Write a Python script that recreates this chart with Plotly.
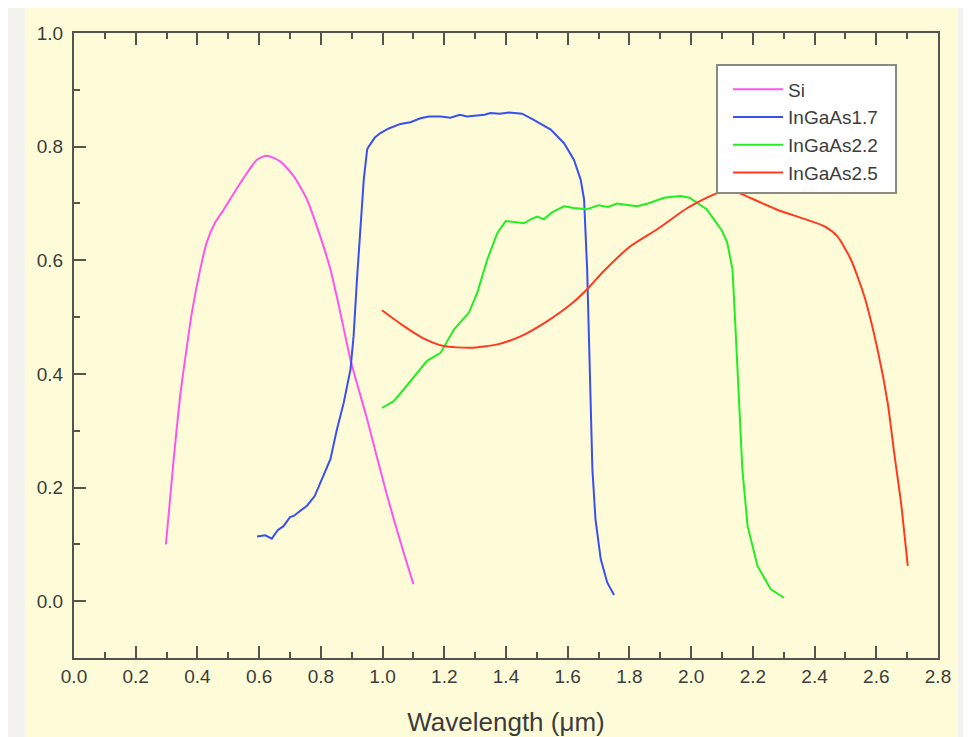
import plotly.graph_objects as go

# ---- data ----
si_x = [0.298, 0.322, 0.344, 0.366, 0.382, 0.409, 0.430, 0.457, 0.485, 0.539, 0.593, 0.625,
        0.668, 0.712, 0.755, 0.798, 0.831, 0.863, 0.896, 0.950, 1.015, 1.068, 1.100]
si_y = [0.100, 0.244, 0.361, 0.449, 0.508, 0.584, 0.631, 0.666, 0.689, 0.736, 0.777, 0.784,
        0.774, 0.748, 0.707, 0.642, 0.584, 0.508, 0.425, 0.320, 0.185, 0.086, 0.030]

g17_x = [0.593, 0.620, 0.641, 0.660, 0.679, 0.700, 0.712, 0.735, 0.755, 0.780, 0.798, 0.831,
         0.852, 0.874, 0.896, 0.906, 0.917, 0.928, 0.939, 0.950, 0.955, 0.975, 0.993, 1.020,
         1.058, 1.090, 1.123, 1.150, 1.188, 1.220, 1.250, 1.274, 1.300, 1.330, 1.350, 1.380,
         1.410, 1.452, 1.490, 1.545, 1.588, 1.620, 1.642, 1.653, 1.663, 1.669, 1.674, 1.680,
         1.690, 1.707, 1.728, 1.750]
g17_y = [0.114, 0.116, 0.110, 0.125, 0.132, 0.148, 0.150, 0.160, 0.168, 0.185, 0.209, 0.250,
         0.302, 0.349, 0.408, 0.466, 0.566, 0.654, 0.742, 0.795, 0.800, 0.816, 0.824, 0.832,
         0.840, 0.843, 0.850, 0.853, 0.853, 0.851, 0.856, 0.853, 0.855, 0.856, 0.859, 0.858,
         0.860, 0.858, 0.847, 0.830, 0.806, 0.777, 0.742, 0.707, 0.584, 0.466, 0.349, 0.232,
         0.144, 0.074, 0.033, 0.011]

g22_x = [0.998, 1.036, 1.069, 1.112, 1.144, 1.188, 1.231, 1.280, 1.307, 1.339, 1.372, 1.399,
         1.430, 1.458, 1.480, 1.501, 1.523, 1.550, 1.588, 1.620, 1.663, 1.700, 1.730, 1.760,
         1.800, 1.825, 1.860, 1.890, 1.912, 1.940, 1.966, 1.995, 2.020, 2.050, 2.074, 2.100,
         2.117, 2.134, 2.145, 2.155, 2.166, 2.183, 2.215, 2.258, 2.301]
g22_y = [0.340, 0.352, 0.373, 0.402, 0.423, 0.437, 0.478, 0.508, 0.543, 0.601, 0.648, 0.669,
         0.667, 0.665, 0.672, 0.677, 0.672, 0.685, 0.695, 0.692, 0.690, 0.697, 0.694, 0.700,
         0.697, 0.695, 0.700, 0.705, 0.710, 0.712, 0.713, 0.710, 0.701, 0.690, 0.672, 0.652,
         0.631, 0.584, 0.466, 0.349, 0.232, 0.132, 0.062, 0.021, 0.006]

g25_x = [0.998, 1.069, 1.134, 1.198, 1.285, 1.372, 1.447, 1.534, 1.609, 1.663, 1.717, 1.804,
         1.891, 1.988, 2.074, 2.130, 2.166, 2.279, 2.431, 2.474, 2.518, 2.561, 2.604, 2.637,
         2.658, 2.680, 2.702]
g25_y = [0.512, 0.484, 0.462, 0.449, 0.446, 0.452, 0.466, 0.493, 0.522, 0.549, 0.581, 0.625,
         0.655, 0.692, 0.716, 0.724, 0.716, 0.689, 0.660, 0.642, 0.601, 0.537, 0.443, 0.349,
         0.261, 0.174, 0.062]

series_names = ["Si", "InGaAs1.7", "InGaAs2.2", "InGaAs2.5"]
series_colors = ["#ff55ee", "#3a4ff0", "#22ee22", "#ff3a22"]

FONT = "Liberation Sans, Arial, sans-serif"
AX = "#555550"
TXT = "#3c3c3c"

fig = go.Figure()
data = [(si_x, si_y, "spline"), (g17_x, g17_y, "linear"),
        (g22_x, g22_y, "linear"), (g25_x, g25_y, "spline")]
for (xs, ys, shp), name, col in zip(data, series_names, series_colors):
    fig.add_trace(go.Scatter(x=xs, y=ys, mode="lines", name=name,
                             line=dict(color=col, width=2, shape=shp, smoothing=0.6)))

fig.update_layout(
    width=963, height=729,
    margin=dict(l=66, r=33, t=25, b=79),
    paper_bgcolor="#f3f2ef",
    plot_bgcolor="#fefcd8",
    font=dict(family=FONT, color=TXT),
    shapes=[
        dict(type="rect", xref="paper", yref="paper", layer="below",
             x0=-0.0567, x1=1.0231, y0=-0.3, y1=1.040,
             fillcolor="#fefcd8", line=dict(width=0)),
        # legend box
        dict(type="rect", xref="paper", yref="paper", layer="above",
             x0=0.7442, x1=0.9514, y0=0.744, y1=0.9488,
             fillcolor="white", line=dict(color="#8a8a80", width=2)),
    ],
    legend=dict(x=0.757, y=0.940, xanchor="left", yanchor="top",
                bgcolor="rgba(0,0,0,0)", borderwidth=0,
                font=dict(family=FONT, size=19, color=TXT),
                itemwidth=50),
    xaxis=dict(range=[0, 2.8], dtick=0.2, tick0=0, tickformat=".1f",
               showline=True, linecolor=AX, linewidth=2, mirror="ticks",
               ticks="inside", ticklen=12, tickwidth=1.5, tickcolor=AX,
               minor=dict(ticks="inside", ticklen=6, tickwidth=1.5, tickcolor=AX, dtick=0.1),
               showgrid=False, zeroline=False, automargin=False,
               tickfont=dict(family=FONT, size=19, color=TXT),
               title=dict(text="Wavelength (μm)", font=dict(family=FONT, size=26, color=TXT),
                          standoff=30)),
    yaxis=dict(range=[-0.1, 1.0], dtick=0.2, tick0=0, tickformat=".1f",
               showline=True, linecolor=AX, linewidth=2, mirror=True,
               ticks="inside", ticklen=12, tickwidth=1.5, tickcolor=AX,
               minor=dict(ticks="inside", ticklen=6, tickwidth=1.5, tickcolor=AX, dtick=0.1),
               showgrid=False, zeroline=False, ticklabelstandoff=5, automargin=False,
               tickfont=dict(family=FONT, size=19, color=TXT)),
    yaxis2=dict(range=[-0.1, 1.0], dtick=0.1, tick0=0, overlaying="y", side="right",
                anchor="x", showline=False, ticks="inside", ticklen=12, tickwidth=1.5,
                tickcolor=AX, showticklabels=False, showgrid=False, zeroline=False,
                automargin=False),
)

fig.write_html("out.html")
